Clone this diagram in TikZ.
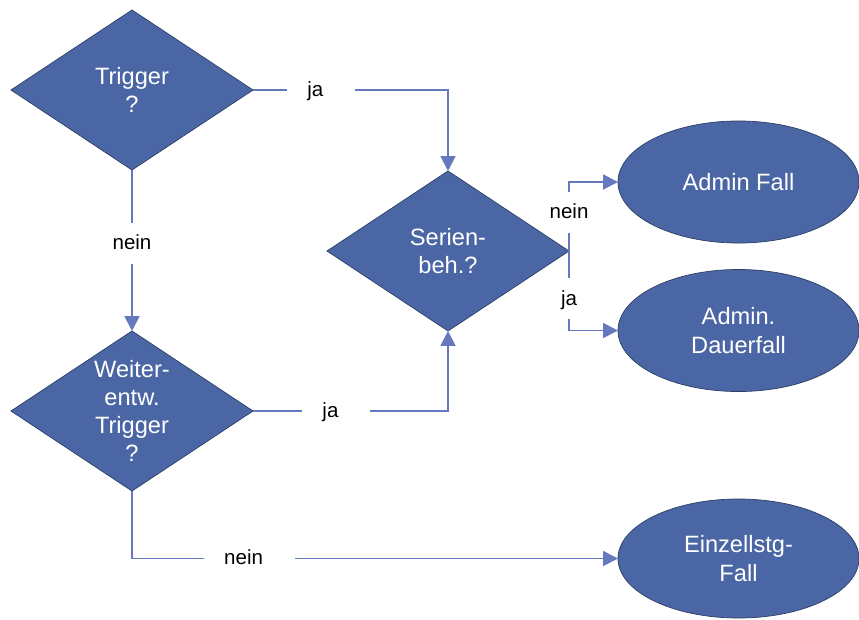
\documentclass[tikz,border=0pt]{standalone}
\usepackage{fontspec}
\setmainfont{Liberation Sans}
\usepackage{tikz}
\usetikzlibrary{arrows.meta,positioning,shapes.geometric}

\definecolor{kastenblau}{HTML}{4A66A4}
\definecolor{randblau}{HTML}{2E3F66}
\definecolor{linienblau}{HTML}{6678BE}

\tikzset{
	entsch/.style={diamond,draw=randblau,line width=0.5pt,fill=kastenblau,text=white,
		shape aspect=1.5,inner sep=0pt,outer sep=0pt,minimum width=6.05cm,minimum height=4cm,
		align=center,font=\fontsize{16.8}{20}\selectfont},
	ende/.style={ellipse,draw=randblau,line width=0.5pt,fill=kastenblau,text=white,
		inner sep=0pt,outer sep=0pt,minimum width=6.025cm,minimum height=3.05cm,
		align=center,font=\fontsize{16.8}{20}\selectfont},
	verb/.style={draw=linienblau,line width=1.4pt,-{Triangle[length=0.37cm,width=0.37cm]}},
	lbl/.style={fill=white,text=black,inner ysep=0.35cm,
		text height=0.92em,text depth=0em,font=\fontsize{14.6}{17}\selectfont},
	lblh/.style={lbl,inner xsep=0.5cm,execute at end node={\hspace{0.3cm}}},
	lblv/.style={lbl,inner xsep=2pt}
}

\begin{document}
\begin{tikzpicture}[x=0.025cm,y=-0.025cm]
		\useasboundingbox (0,0) rectangle (859,619);
		
		\node[entsch] (trig) at (132,90) {Trigger\\?};
		\node[entsch] (weiter) at (132,411) {Weiter-\\entw.\\Trigger\\?};
		\node[entsch] (serie) at (448,251) {Serien-\\beh.?};
		
		\node[ende] (admfall) at (738.5,182) {Admin Fall};
		\node[ende] (admdauer) at (738.5,330.5) {Admin.\\Dauerfall};
		\node[ende,minimum height=2.975cm] (einzel) at (738.5,558.5) {Einzellstg-\\Fall};
		
		% Verbindungen
		\draw[verb] (trig.east) -| node[lblh,pos=0.175] {ja} (serie.north);
		\draw[verb] (trig.south) -- node[lblv,pos=0.456] {nein} (weiter.north);
		\draw[verb] (weiter.east) -| node[lblh,pos=0.214] {ja} (serie.south);
		\draw[verb] (weiter.south) |- node[lblh,pos=0.621] {nein} (einzel.west);
		\draw[verb] (serie.east) |- node[lblv,pos=0.28] {nein} (admfall.west);
		\draw[verb] (serie.east) |- node[lblv,pos=0.30] {ja} (admdauer.west);
		
	\end{tikzpicture}
\end{document}
